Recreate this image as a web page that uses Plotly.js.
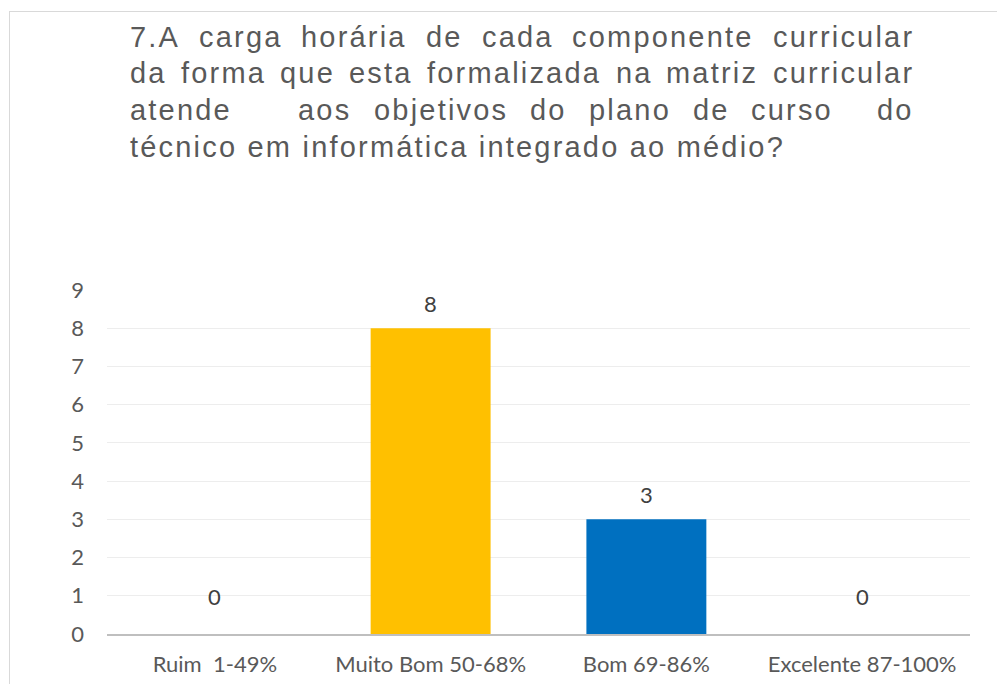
<!DOCTYPE html>
<html>
<head>
<meta charset="utf-8">
<script src="https://cdn.plot.ly/plotly-3.0.1.min.js"></script>
<style>
  html, body { margin: 0; padding: 0; background: #ffffff; }
  #chart { position: absolute; left: 0; top: 0; width: 997px; height: 684px; }
  #frame { position: absolute; left: 9px; top: 11px; width: 1010px; height: 700px;
           border: 1px solid #D9D9D9; box-sizing: border-box; pointer-events: none; z-index: 5; }
  .annotation-text[style*="Liberation Sans"] { letter-spacing: 2.2px; }
</style>
</head>
<body>
<div id="chart"></div>
<div id="frame"></div>
<script>
// ---- data ----
const categories = ["Ruim  1-49%", "Muito Bom 50-68%", "Bom 69-86%", "Excelente 87-100%"];
const values = [0, 8, 3, 0];
const barColors = ["#A5A5A5", "#FFC000", "#0070C0", "#5B9BD5"];
const yTickVals = [0, 1, 2, 3, 4, 5, 6, 7, 8, 9];
const titleLines = [
  "7.A carga horária de cada componente curricular",
  "da forma que esta formalizada na matriz curricular",
  "atende   aos objetivos do plano de curso  do",
  "técnico em informática integrado ao médio?"
];

// ---- layout geometry ----
const W = 997, H = 684;
const M = { l: 107, r: 27, t: 290, b: 50 };
const PW = W - M.l - M.r, PH = H - M.t - M.b;
const TITLE_FS = 29, TITLE_LS = 2.2;
const TITLE_LEFT = 130, TITLE_RIGHT = 914;
const LINE_CENTERS = [37, 73, 110, 147];

const canvas = document.createElement("canvas");
const ctx = canvas.getContext("2d");
ctx.font = TITLE_FS + 'px "Liberation Sans"';
try { ctx.letterSpacing = TITLE_LS + "px"; } catch (e) {}
function measure(t) { return ctx.measureText(t).width; }

const px2x = px => (px - M.l) / PW;
const py2y = py => (H - M.b - py) / PH;

const titleFont = { family: "Liberation Sans, Arial, sans-serif", size: TITLE_FS, color: "#595959" };
const annotations = [];

titleLines.forEach((line, li) => {
  const yPaper = py2y(LINE_CENTERS[li]);
  const justify = li < titleLines.length - 1;
  if (!justify) {
    annotations.push({ text: line, xref: "paper", yref: "paper", x: px2x(TITLE_LEFT), y: yPaper,
      xanchor: "left", yanchor: "middle", align: "left", showarrow: false,
      borderpad: 0, borderwidth: 0, font: titleFont });
    return;
  }
  const words = line.split(" ");
  const widths = words.map(w => w ? measure(w) : 0);
  const total = widths.reduce((a, b) => a + b, 0);
  const gap = (TITLE_RIGHT - TITLE_LEFT - total) / (words.length - 1);
  let xpos = TITLE_LEFT;
  words.forEach((w, i) => {
    if (w) {
      annotations.push({ text: w, xref: "paper", yref: "paper", x: px2x(xpos), y: yPaper,
        xanchor: "left", yanchor: "middle", align: "left", showarrow: false,
        borderpad: 0, borderwidth: 0, font: titleFont });
    }
    xpos += widths[i] + gap;
  });
});

// data labels
categories.forEach((c, i) => {
  annotations.push({ text: String(values[i]), x: c, y: values[i], xref: "x", yref: "y",
    xanchor: "center", yanchor: "middle", yshift: values[i] === 0 ? 38 : 25,
    showarrow: false, font: { family: "Lato, sans-serif", size: 22, color: "#404040" } });
});

const trace = {
  type: "bar",
  x: categories,
  y: values,
  marker: { color: barColors },
  width: 0.556,
  hoverinfo: "none"
};

const layout = {
  width: W, height: H,
  margin: M,
  paper_bgcolor: "#ffffff",
  plot_bgcolor: "#ffffff",
  showlegend: false,
  annotations: annotations,
  xaxis: {
    type: "category",
    showline: true, linecolor: "#BFBFBF", linewidth: 2,
    showgrid: false, ticks: "",
    tickfont: { family: "Lato, sans-serif", size: 22, color: "#595959" },
    ticklabelstandoff: 10
  },
  yaxis: {
    range: [0, 9],
    tickvals: yTickVals,
    showgrid: true, gridcolor: "#EDEDED", gridwidth: 1,
    zeroline: false, showline: false, ticks: "",
    tickfont: { family: "Lato, sans-serif", size: 22, color: "#595959" },
    ticklabelstandoff: 22
  }
};

Plotly.newPlot("chart", [trace], layout, { displayModeBar: false, staticPlot: true });
</script>
</body>
</html>
